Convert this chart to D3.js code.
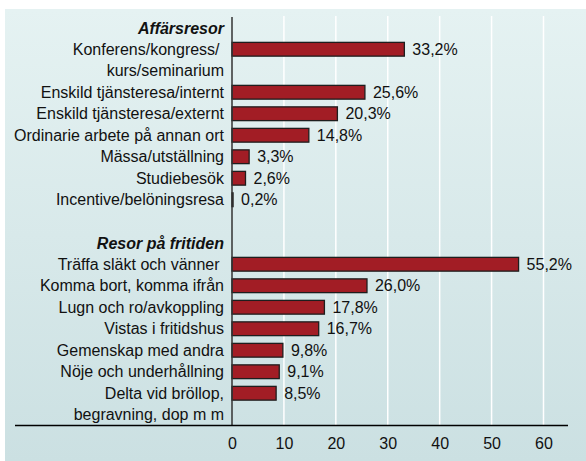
<!DOCTYPE html>
<html>
<head>
<meta charset="utf-8">
<script src="https://cdn.jsdelivr.net/npm/d3@7"></script>
<style>
  html, body { margin: 0; padding: 0; background: #ffffff; }
  svg { display: block; }
  text { font-family: "Liberation Sans", Arial, Helvetica, sans-serif; fill: #111; }
</style>
</head>
<body>
<svg id="chart" width="586" height="461"></svg>
<script>
// ---- Data ----
const groupTitles = ["Affärsresor", "Resor på fritiden"];
const businessCategories = [
  "Konferens/kongress/ \nkurs/seminarium",
  "Enskild tjänsteresa/internt",
  "Enskild tjänsteresa/externt",
  "Ordinarie arbete på annan ort",
  "Mässa/utställning",
  "Studiebesök",
  "Incentive/belöningsresa"
];
const businessValues = [33.2, 25.6, 20.3, 14.8, 3.3, 2.6, 0.2];
const leisureCategories = [
  "Träffa släkt och vänner ",
  "Komma bort, komma ifrån",
  "Lugn och ro/avkoppling",
  "Vistas i fritidshus",
  "Gemenskap med andra",
  "Nöje och underhållning",
  "Delta vid bröllop,\nbegravning, dop m m"
];
const leisureValues = [55.2, 26.0, 17.8, 16.7, 9.8, 9.1, 8.5];
const valueLabels = {
  business: ["33,2%", "25,6%", "20,3%", "14,8%", "3,3%", "2,6%", "0,2%"],
  leisure: ["55,2%", "26,0%", "17,8%", "16,7%", "9,8%", "9,1%", "8,5%"]
};
const xTicks = [0, 10, 20, 30, 40, 50, 60];

// ---- Build slot rows ----
const rows = [];
function addGroup(title, cats, vals, labs) {
  rows.push({ id: "h" + rows.length, type: "header", label: title });
  cats.forEach((c, i) => {
    const lines = c.split("\n");
    rows.push({ id: "r" + rows.length, type: "bar", lines, value: vals[i], vlabel: labs[i] });
    for (let k = 1; k < lines.length; k++) rows.push({ id: "b" + rows.length, type: "blank" });
  });
}
addGroup(groupTitles[0], businessCategories, businessValues, valueLabels.business);
rows.push({ id: "s" + rows.length, type: "blank" });
addGroup(groupTitles[1], leisureCategories, leisureValues, valueLabels.leisure);

// ---- Layout ----
const svg = d3.select("#chart");
const W = 586, H = 461;
const defs = svg.append("defs");
const grad = defs.append("linearGradient").attr("id", "bg").attr("x1", 0).attr("y1", 0).attr("x2", 0).attr("y2", 1);
grad.append("stop").attr("offset", "0%").attr("stop-color", "#e5f2f2");
grad.append("stop").attr("offset", "100%").attr("stop-color", "#cbe0e2");
svg.append("rect").attr("x", 5).attr("y", 9).attr("width", W - 5).attr("height", H - 9).attr("fill", "url(#bg)");

const x = d3.scaleLinear().domain([0, 60]).range([232, 543.5]);
const y = d3.scaleBand().domain(rows.map(r => r.id)).range([17, 425.5]).paddingInner(0.36).paddingOuter(0.18);
const step = y.step();
const yc = id => y(id) + y.bandwidth() / 2;

// gridlines
svg.append("g").selectAll("line").data(xTicks.filter(t => t > 0)).join("line")
  .attr("x1", d => x(d)).attr("x2", d => x(d))
  .attr("y1", 16).attr("y2", 425.5)
  .attr("stroke", "#ffffff").attr("stroke-width", 1.5);

// bars
const barRows = rows.filter(r => r.type === "bar");
svg.append("g").selectAll("rect").data(barRows).join("rect")
  .attr("x", x(0))
  .attr("y", d => y(d.id))
  .attr("width", d => Math.max(x(d.value) - x(0), 0.5))
  .attr("height", y.bandwidth())
  .attr("fill", "#a21d25")
  .attr("stroke", "#1e1e1e")
  .attr("stroke-width", 1.3);

// value labels
svg.append("g").selectAll("text").data(barRows).join("text")
  .attr("x", d => x(d.value) + 8)
  .attr("y", d => yc(d.id))
  .attr("dy", "0.35em")
  .attr("font-size", 16)
  .text(d => d.vlabel);

// category labels
const labG = svg.append("g");
barRows.forEach(r => {
  r.lines.forEach((ln, k) => {
    labG.append("text")
      .attr("x", 224)
      .attr("y", yc(r.id) + k * step)
      .attr("dy", "0.35em")
      .attr("text-anchor", "end")
      .attr("font-size", 16)
      .style("white-space", "pre")
      .text(ln);
  });
});
// headers
labG.selectAll("text.hdr").data(rows.filter(r => r.type === "header")).join("text")
  .attr("class", "hdr")
  .attr("x", 224)
  .attr("y", d => yc(d.id) + 1)
  .attr("dy", "0.35em")
  .attr("text-anchor", "end")
  .attr("font-size", 16)
  .attr("font-weight", "bold")
  .attr("font-style", "italic")
  .text(d => d.label);

// y axis line
svg.append("line").attr("x1", x(0)).attr("x2", x(0)).attr("y1", 17).attr("y2", 425.5)
  .attr("stroke", "#333").attr("stroke-width", 1.5);

// x axis
const xAxis = d3.axisBottom(x).tickValues(xTicks).tickSize(0).tickPadding(12).tickFormat(d3.format("d"));
const ax = svg.append("g").attr("transform", "translate(0,425.5)").call(xAxis);
ax.select(".domain").remove();
ax.selectAll("text").attr("font-size", 16).attr("font-family", "Liberation Sans, Arial, sans-serif").attr("fill", "#111");
svg.append("line").attr("x1", 15).attr("x2", 568).attr("y1", 425.5).attr("y2", 425.5)
  .attr("stroke", "#000").attr("stroke-width", 1.6);
</script>
</body>
</html>
